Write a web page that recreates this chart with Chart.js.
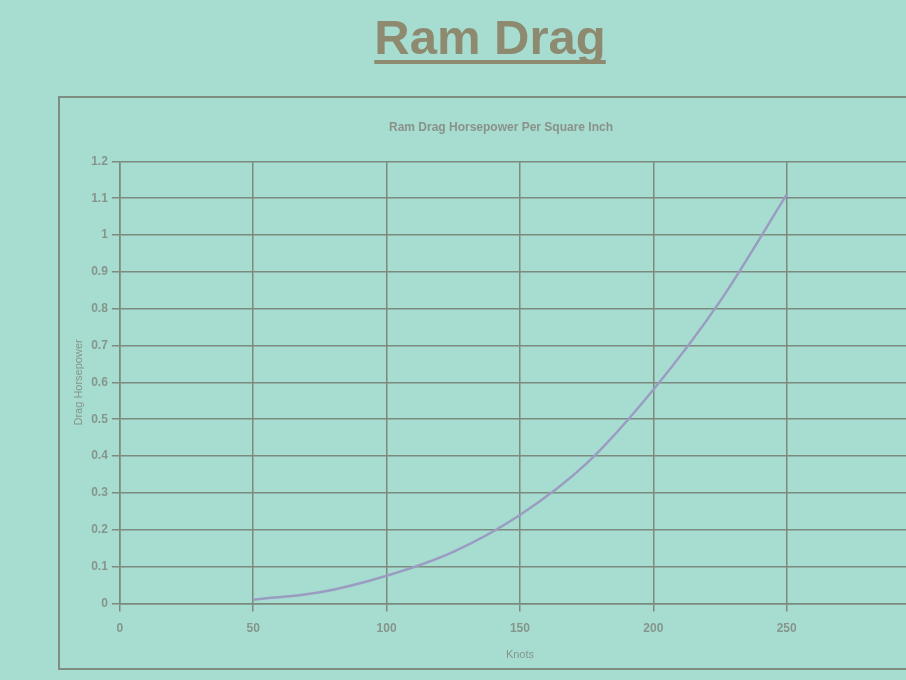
<!DOCTYPE html>
<html>
<head>
<meta charset="utf-8">
<title>Ram Drag</title>
<script src="https://cdn.jsdelivr.net/npm/chart.js@4/dist/chart.umd.min.js"></script>
<style>
  html, body { margin: 0; padding: 0; }
  body {
    width: 906px; height: 680px; overflow: hidden; position: relative;
    background: #a7ddd0;
    font-family: "Liberation Sans", Arial, sans-serif;
  }
  h1 {
    position: absolute; left: 0; top: 9px; width: 980px; margin: 0;
    text-align: center; font-size: 49px; font-weight: bold; color: #8d8a70;
    text-decoration: underline; text-decoration-thickness: 4px; text-underline-offset: 6px;
    text-decoration-skip-ink: none;
  }
  #frame {
    position: absolute; left: 58px; top: 96px; width: 870px; height: 570px;
    border: 2px solid #7f8c82;
  }
</style>
</head>
<body>
<h1>Ram Drag</h1>
<div id="frame"><canvas id="ramChart" width="870" height="570"></canvas></div>
<script>
// Valores
const knots = [50, 75, 100, 125, 150, 175, 200, 225, 250]; // velocidade em nós
const dragHp = [0.01, 0.03, 0.075, 0.14, 0.24, 0.38, 0.58, 0.82, 1.11]; // hp por polegada quadrada

const gridColor = "#7d8a7e";
const textColor = "#86958c";

new Chart("ramChart", {
  type: "line",
  data: {
    datasets: [
      {
        data: knots.map((k, i) => ({ x: k, y: dragHp[i] })),
        borderColor: "#9b9cc2",
        borderWidth: 2.5,
        pointRadius: 0,
        cubicInterpolationMode: "monotone",
        fill: false,
      },
    ],
  },
  options: {
    responsive: false,
    animation: false,
    layout: { padding: { left: 12, right: 0, top: 0, bottom: 6 } },
    plugins: {
      legend: { display: false },
      tooltip: { enabled: false },
      title: {
        display: true,
        text: "Ram Drag Horsepower Per Square Inch",
        color: "#8a9189",
        font: { family: "Liberation Sans", size: 12, weight: "bold" },
        padding: { top: 22, bottom: 27 },
      },
    },
    scales: {
      x: {
        type: "linear",
        min: 0,
        max: 300,
        ticks: {
          stepSize: 50,
          color: textColor,
          font: { family: "Liberation Sans", size: 12, weight: "bold" },
          padding: 10,
          maxRotation: 0,
          callback: (v) => (v === 300 ? "" : v),
        },
        grid: { color: gridColor, lineWidth: 1.5, tickLength: 8 },
        border: { color: gridColor, width: 1.5 },
        title: {
          display: true,
          text: "Knots",
          color: textColor,
          font: { family: "Liberation Sans", size: 11 },
          padding: { top: 3, bottom: 0 },
        },
      },
      y: {
        min: 0,
        max: 1.2,
        ticks: {
          stepSize: 0.1,
          color: textColor,
          font: { family: "Liberation Sans", size: 12, weight: "bold" },
          padding: 4,
          callback: (v) => parseFloat(v.toFixed(1)),
        },
        grid: { color: gridColor, lineWidth: 1.5, tickLength: 8 },
        border: { color: gridColor, width: 1.5 },
        title: {
          display: true,
          text: "Drag Horsepower",
          color: textColor,
          font: { family: "Liberation Sans", size: 11 },
          padding: { top: 0, bottom: 2 },
        },
      },
    },
  },
});
</script>
</body>
</html>
